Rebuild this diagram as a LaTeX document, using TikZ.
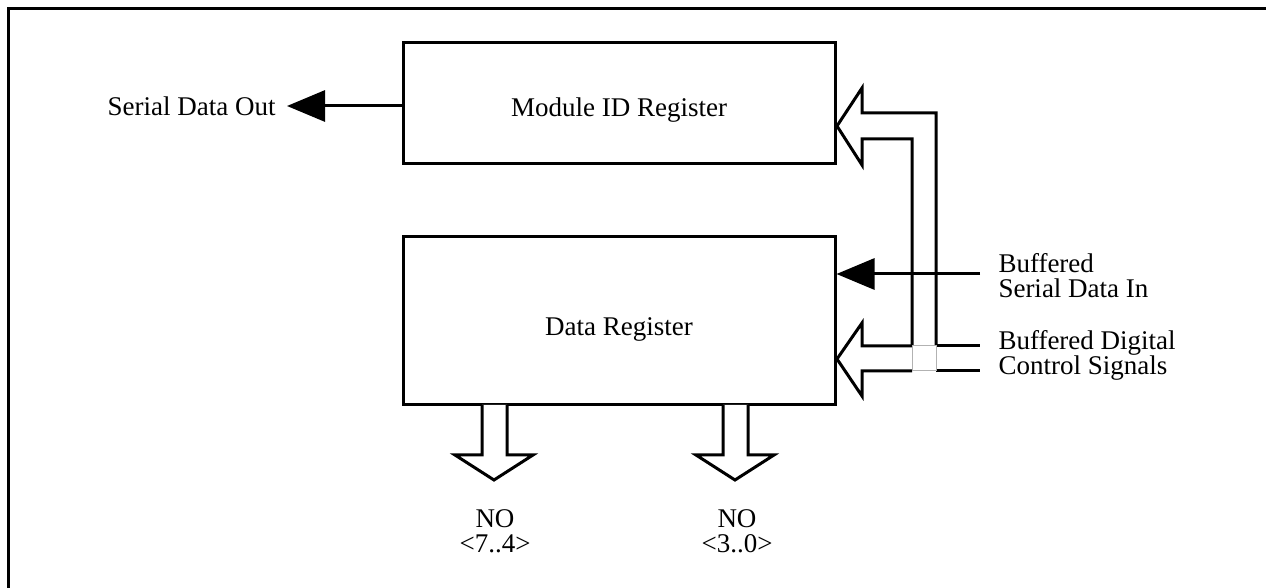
\documentclass[tikz,border=0pt]{standalone}
\usepackage{fontspec}
\setmainfont{Liberation Serif}
\usetikzlibrary{arrows.meta}
\begin{document}
\begin{tikzpicture}[x=0.5pt,y=-0.5pt,line width=1.5pt,
  txt/.style={font=\fontsize{13.5}{12.5}\selectfont, inner sep=0pt},
  regbox/.style={draw, minimum width=216pt, inner sep=0pt},
  busarrow/.style={draw, fill=white, line join=miter},
  sig/.style={-{Triangle[length=19pt,width=15.5pt]}}]
\useasboundingbox (0,0) rectangle (1266,588);
% frame
\draw (8,588) -- (8,9) -- (1266,9);
% registers
\node[regbox, minimum height=60.5pt] (idreg) at (619,103.5) {};
\node[txt] (idtxt) at (619,110) {Module ID Register};
\node[regbox, minimum height=84pt] (datareg) at (619,321) {};
\node[txt] (datatxt) at (619,329) {Data Register};
% serial data out
\node[txt, anchor=east] (sdo) at (277,106) {Serial Data Out};
\draw[sig] (idreg.west |- sdo.east) -- ([xshift=5pt]sdo.east);
% control signals bus
\node[txt, anchor=west, align=left] (ctl) at (997,355) {Buffered Digital\\Control Signals};
\draw[busarrow] (936,346) -- (936,113) -- (862,113) -- (862,88) -- (837,126) -- (862,165) -- (862,139) -- (912,139) -- (912,346);
\draw[busarrow] (912,346) -- (862,346) -- (862,323) -- (837,359) -- (862,396) -- (862,371) -- (912,371);
\draw (936,346) -- (980,346);
\draw (936,371) -- (980,371);
\draw[gray!60, line width=0.5pt] (912,346) rectangle (936,371);
% serial data in
\node[txt, anchor=west, align=left] (sdi) at (997,276) {Buffered\\Serial Data In};
\coordinate (sdiend) at (980,274);
\draw[sig] (sdiend) -- (datareg.east |- sdiend);
% output buses
\draw[busarrow] (482,405) -- (482,455) -- (455,455) -- (494,480) -- (533,455) -- (507,455) -- (507,405);
\draw[busarrow] (723,405) -- (723,455) -- (696,455) -- (735,480) -- (774,455) -- (748,455) -- (748,405);
\node[txt, align=center] (no74) at (495,531) {NO\\<7..4>};
\node[txt, align=center] (no30) at (737,531) {NO\\<3..0>};
\end{tikzpicture}
\end{document}
